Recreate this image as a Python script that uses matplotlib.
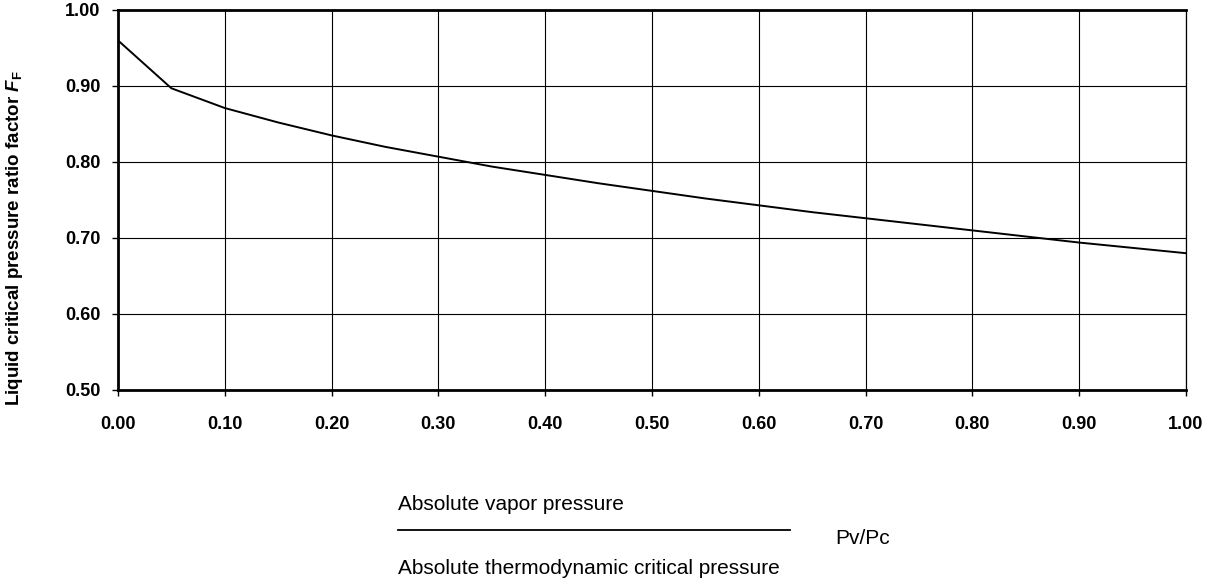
import matplotlib
matplotlib.use("Agg")
import matplotlib.pyplot as plt
from matplotlib.lines import Line2D

plt.rcParams['font.family'] = ['Liberation Sans', 'DejaVu Sans']
plt.rcParams['mathtext.fontset'] = 'custom'
plt.rcParams['mathtext.it'] = 'Liberation Sans:italic:bold'
plt.rcParams['mathtext.rm'] = 'Liberation Sans:bold'

# Pv/Pc ratio and FF
ratio = [0.00, 0.05, 0.10, 0.15, 0.20, 0.25, 0.30, 0.35, 0.40, 0.45, 0.50,
         0.55, 0.60, 0.65, 0.70, 0.75, 0.80, 0.85, 0.90, 0.95, 1.00]
ff = [0.960, 0.897, 0.871, 0.852, 0.835, 0.820, 0.807, 0.794, 0.783, 0.772, 0.762,
      0.752, 0.743, 0.734, 0.726, 0.718, 0.710, 0.702, 0.694, 0.687, 0.680]
xticks = [0.0, 0.1, 0.2, 0.3, 0.4, 0.5, 0.6, 0.7, 0.8, 0.9, 1.0]
yticks = [0.5, 0.6, 0.7, 0.8, 0.9, 1.0]

fig = plt.figure(figsize=(12.18, 5.85), dpi=100)
ax = fig.add_axes([118/1218, 1-390/585, (1186-118)/1218, 380/585])

ax.plot(ratio, ff, color='black', lw=1.4, zorder=3)
ax.set_xlim(0, 1)
ax.set_ylim(0.5, 1.0)
ax.set_xticks(xticks)
ax.set_yticks(yticks)
ax.set_xticklabels(['%.2f' % v for v in xticks], fontweight='bold', fontsize=13)
ax.set_yticklabels(['%.2f' % v for v in yticks], fontweight='bold', fontsize=13)
ax.tick_params(direction='out', length=4.5, width=1)
ax.tick_params(axis='x', pad=14)
ax.tick_params(axis='y', pad=8)
ax.grid(True, color='black', lw=0.8)
ax.set_axisbelow(True)
for side in ['left', 'bottom', 'top']:
    ax.spines[side].set_linewidth(2)
ax.spines['right'].set_linewidth(0.9)

ax.set_ylabel(r'Liquid critical pressure ratio factor $F_{\mathrm{F}}$',
              fontweight='bold', fontsize=13.5)
ax.yaxis.set_label_coords((25-118)/1068, 0.4)

fig.text(398/1218, 1-505/585, 'Absolute vapor pressure', fontsize=15, va='center', ha='left')
fig.add_artist(Line2D([398/1218, 790/1218], [1-530/585, 1-530/585], color='black', lw=1.3))
fig.text(398/1218, 1-568/585, 'Absolute thermodynamic critical pressure', fontsize=15,
         va='center', ha='left')
fig.text(835/1218, 1-538/585, 'Pv/Pc', fontsize=15, va='center', ha='left')

fig.savefig('out.png', dpi=100)
